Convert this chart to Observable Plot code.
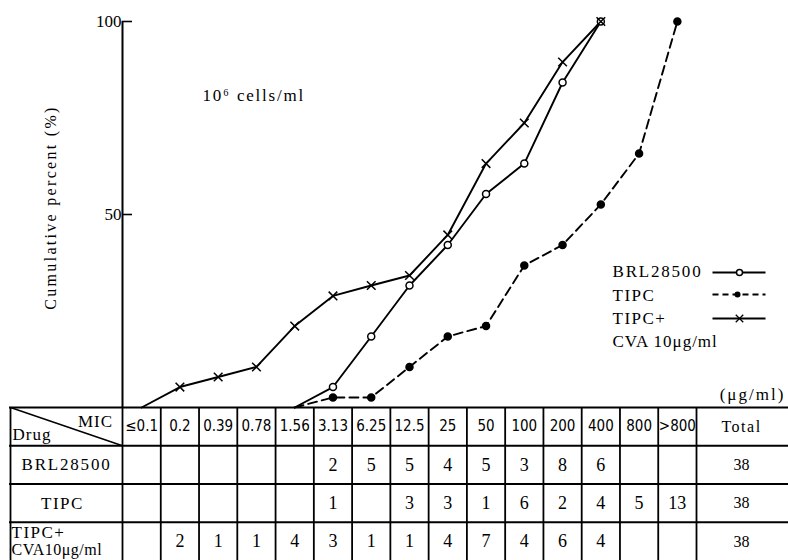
<!DOCTYPE html>
<html>
<head>
<meta charset="utf-8">
<script src="https://cdn.jsdelivr.net/npm/d3@7"></script>
<script src="https://cdn.jsdelivr.net/npm/@observablehq/plot@0.6"></script>
<style>
  html, body { margin: 0; padding: 0; background: white; }
  #wrap { width: 788px; height: 560px; position: relative; overflow: hidden; }
  #wrap svg { display: block; overflow: visible; font-family: 'Liberation Serif', 'DejaVu Serif', serif; }
</style>
</head>
<body>
<div id="wrap"></div>
<script>
// ---------- DATA ----------
const mic = ["≤0.1","0.2","0.39","0.78","1.56","3.13","6.25","12.5","25","50","100","200","400","800",">800"];
const drugs = ["BRL28500", "TIPC", "TIPC+"];
const brlCounts  = [null,null,null,null,null,2,5,5,4,5,3,8,6,null,null];
const tipcCounts = [null,null,null,null,null,1,null,3,3,1,6,2,4,5,13];
const cvaCounts  = [null,2,1,1,4,3,1,1,4,7,4,6,4,null,null];
const totals = [38, 38, 38];
// cumulative percent (per MIC column)
const brlCum  = [null,null,null,null,0,5.3,18.4,31.6,42.1,55.3,63.2,84.2,100,null,null];
const tipcCum = [null,null,null,null,0,2.6,2.6,10.5,18.4,21.1,36.8,42.1,52.6,65.8,100];
const cvaCum  = [0,5.3,7.9,10.5,21.1,28.9,31.6,34.2,44.7,63.2,73.7,89.5,100,null,null];
const yTicks = [50, 100];
const legendLabels = ["BRL28500", "TIPC", "TIPC+", "CVA 10μg/ml"];

// ---------- LAYOUT ----------
const W = 788, H1 = 407, H2 = 153, ML = 122, MR = 92, MT = 21;
const colW = (W - ML - MR) / mic.length;
const xi = px => -0.5 + (px - ML) / colW;          // pixel -> column units
const yv = py => (H1 - py) / (H1 - MT) * 100;       // pixel -> percent
const serif = "Liberation Serif";
const cond = "DejaVu Sans Condensed";

const toPts = arr => arr.map((v, i) => ({i, v})).filter(d => d.v !== null);
const brl = toPts(brlCum), tipc = toPts(tipcCum), cva = toPts(cvaCum);

const T = (data, opts) => Plot.text(data, {fontFamily: serif, lineAnchor: "middle", fill: "black", ...opts});

const chart = Plot.plot({
  width: W, height: H1,
  marginLeft: ML, marginRight: MR, marginTop: MT, marginBottom: 0,
  x: {type: "linear", domain: [-0.5, mic.length - 0.5], axis: null},
  y: {type: "linear", domain: [0, 100], axis: null},
  style: {background: "transparent", overflow: "visible"},
  marks: [
    // y axis
    Plot.ruleX([-0.5], {y1: 0, y2: 100, stroke: "black", strokeWidth: 2}),
    Plot.ruleY(yTicks, {x1: -0.5, x2: xi(132), stroke: "black", strokeWidth: 1.6}),
    T(yTicks, {x: -0.5, y: d => d, text: d => String(d), textAnchor: "end", dx: -1, fontSize: 17}),
    T(["Cumulative percent (%)"], {x: xi(50), y: yv(207), rotate: -90, fontSize: 16}),
    T(["10⁶ cells/ml"], {x: xi(202), y: yv(95), textAnchor: "start", fontSize: 17}),
    T(["(μg/ml)"], {x: xi(752), y: yv(394), fontSize: 17}),
    // series
    Plot.line(brl, {x: "i", y: "v", stroke: "black", strokeWidth: 1.9}),
    Plot.line(tipc, {x: "i", y: "v", stroke: "black", strokeWidth: 1.9, strokeDasharray: "9,5"}),
    Plot.line(cva, {x: "i", y: "v", stroke: "black", strokeWidth: 1.9}),
    Plot.dot(brl.filter(d => d.v > 0), {x: "i", y: "v", r: 3.5, fill: "white", stroke: "black", strokeWidth: 1.5}),
    Plot.dot(tipc.filter(d => d.v > 0), {x: "i", y: "v", r: 3.5, fill: "black", stroke: "black"}),
    Plot.dot(cva.filter(d => d.v > 0), {x: "i", y: "v", r: 4, symbol: "times", stroke: "black", strokeWidth: 1.5}),
    // legend
    T(legendLabels, {x: xi(612), y: (d, i) => yv([271, 295, 318, 341][i]), textAnchor: "start", fontSize: 17}),
    Plot.link([0], {x1: xi(712), x2: xi(765), y1: yv(272), y2: yv(272), stroke: "black", strokeWidth: 2}),
    Plot.dot([0], {x: xi(739), y: yv(272), r: 3, fill: "white", stroke: "black", strokeWidth: 1.5}),
    Plot.link([0], {x1: xi(712), x2: xi(765), y1: yv(294), y2: yv(294), stroke: "black", strokeWidth: 2, strokeDasharray: "6,4"}),
    Plot.dot([0], {x: xi(737), y: yv(294), r: 3, fill: "black"}),
    Plot.link([0], {x1: xi(712), x2: xi(765), y1: yv(318), y2: yv(318), stroke: "black", strokeWidth: 2}),
    Plot.dot([0], {x: xi(739), y: yv(318), r: 3.5, symbol: "times", stroke: "black", strokeWidth: 1.3})
  ]
});

// ---------- TABLE ----------
const colBounds = d3.range(mic.length + 1).map(k => k - 0.5);
const cells = [];
[brlCounts, tipcCounts, cvaCounts].forEach((arr, r) => arr.forEach((v, i) => { if (v !== null) cells.push({r: r + 1, i, v}); }));
const totalX = xi(741);

const table = Plot.plot({
  width: W, height: H2,
  marginLeft: ML, marginRight: MR, marginTop: 0, marginBottom: 0,
  x: {type: "linear", domain: [-0.5, mic.length - 0.5], axis: null},
  y: {type: "linear", domain: [0, 4], reverse: true, axis: null},
  style: {background: "transparent", overflow: "visible"},
  marks: [
    Plot.ruleY([0, 1, 2, 3], {x1: xi(9), x2: xi(788), stroke: "black", strokeWidth: 1.8}),
    Plot.ruleX([xi(10), ...colBounds], {y1: 0, y2: 4, stroke: "black", strokeWidth: 1.8}),
    Plot.link([0], {x1: xi(10), y1: 0, x2: -0.5, y2: 1, stroke: "black", strokeWidth: 1.5}),
    T(["MIC"], {x: xi(95), y: 0.36, fontSize: 17}),
    T(["Drug"], {x: xi(12), y: 0.72, textAnchor: "start", fontSize: 17}),
    T(mic, {x: (d, i) => i, y: 0.5, fontFamily: cond, fontSize: 15}),
    T(["Total"], {x: totalX, y: 0.5, fontSize: 16}),
    T(cells, {x: "i", y: d => d.r + 0.5, text: d => String(d.v), fontSize: 18}),
    T(totals, {x: totalX, y: (d, i) => i + 1.5, text: d => String(d), fontSize: 16}),
    T([drugs[0]], {x: xi(66), y: 1.5, fontSize: 17}),
    T([drugs[1]], {x: xi(62), y: 2.5, fontSize: 17}),
    T([drugs[2]], {x: xi(11), y: 3.27, textAnchor: "start", fontSize: 17}),
    T(["CVA10μg/ml"], {x: xi(11), y: 3.72, textAnchor: "start", fontSize: 16})
  ]
});

const wrap = document.getElementById("wrap");
wrap.appendChild(chart);
wrap.appendChild(table);

// letter spacing for the spaced-out serif labels
const spacing = {
  "Cumulative percent (%)": 2.3, "10⁶ cells/ml": 1.8, "(μg/ml)": 2,
  "BRL28500": 1.8, "TIPC": 1.5, "TIPC+": 1.5, "CVA 10μg/ml": 1,
  "MIC": 1, "Drug": 1, "Total": 1.5, "CVA10μg/ml": 0.5
};
d3.select(wrap).selectAll("text").each(function() {
  const s = spacing[this.textContent];
  if (s !== undefined) this.setAttribute("letter-spacing", s);
});
</script>
</body>
</html>
